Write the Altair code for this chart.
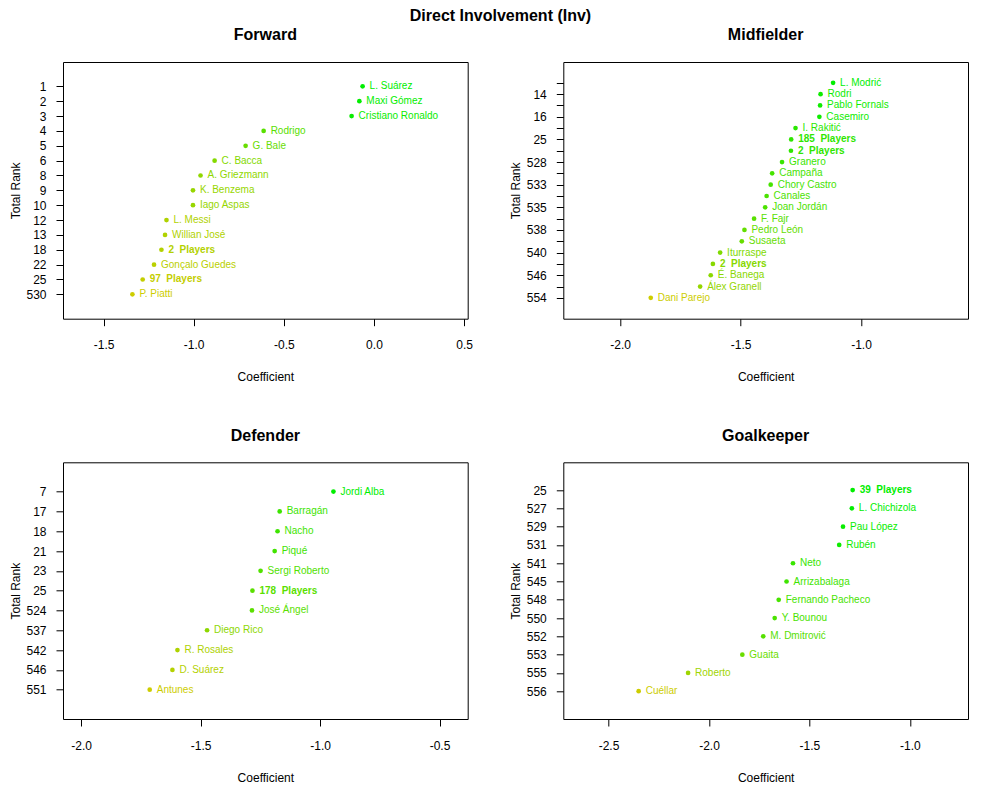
import altair as alt
import pandas as pd

FONT = "Liberation Sans"

# ---------------- data ----------------
fw_names = ["L. Suárez", "Maxi Gómez", "Cristiano Ronaldo", "Rodrigo", "G. Bale", "C. Bacca",
            "A. Griezmann", "K. Benzema", "Iago Aspas", "L. Messi", "Willian José", "2  Players",
            "Gonçalo Guedes", "97  Players", "P. Piatti"]
fw_ranks = ["1", "2", "3", "4", "5", "6", "8", "9", "10", "12", "13", "18", "22", "25", "530"]
fw_coef = [-0.063, -0.081, -0.124, -0.612, -0.712, -0.884, -0.962, -1.004, -1.004, -1.151,
           -1.159, -1.179, -1.220, -1.283, -1.340]
fw_xticks = [-1.5, -1.0, -0.5, 0.0, 0.5]
fw_xdomain = [-1.725, 0.52]

mf_names = ["L. Modrić", "Rodri", "Pablo Fornals", "Casemiro", "I. Rakitić", "185  Players",
            "2  Players", "Granero", "Campaña", "Chory Castro", "Canales", "Joan Jordán", "F. Fajr",
            "Pedro León", "Susaeta", "Iturraspe", "2  Players", "É. Banega", "Álex Granell",
            "Dani Parejo"]
mf_ranks = ["11", "14", "15", "16", "20", "25", "26", "528", "532", "533", "534", "535", "536",
            "538", "539", "540", "543", "546", "549", "554"]
mf_coef = [-1.116, -1.168, -1.170, -1.173, -1.272, -1.290, -1.291, -1.328, -1.369, -1.375,
           -1.392, -1.398, -1.444, -1.484, -1.495, -1.585, -1.615, -1.624, -1.668, -1.873]
mf_xticks = [-2.0, -1.5, -1.0]
mf_xdomain = [-2.236, -0.556]

df_names = ["Jordi Alba", "Barragán", "Nacho", "Piqué", "Sergi Roberto", "178  Players",
            "José Ángel", "Diego Rico", "R. Rosales", "D. Suárez", "Antunes"]
df_ranks = ["7", "17", "18", "21", "23", "25", "524", "537", "542", "546", "551"]
df_coef = [-0.944, -1.169, -1.178, -1.190, -1.249, -1.283, -1.285, -1.473, -1.597, -1.618, -1.713]
df_xticks = [-2.0, -1.5, -1.0, -0.5]
df_xdomain = [-2.076, -0.382]

gk_names = ["39  Players", "L. Chichizola", "Pau López", "Rubén", "Neto", "Arrizabalaga",
            "Fernando Pacheco", "Y. Bounou", "M. Dmitrović", "Guaita", "Roberto", "Cuéllar"]
gk_ranks = ["25", "527", "529", "531", "541", "545", "548", "550", "552", "553", "555", "556"]
gk_coef = [-1.285, -1.289, -1.333, -1.352, -1.582, -1.614, -1.653, -1.673, -1.730, -1.834,
           -2.104, -2.350]
gk_xticks = [-2.5, -2.0, -1.5, -1.0]
gk_xdomain = [-2.725, -0.711]

LOW_COLOR = "#CDCD00"
HIGH_COLOR = "#00EE00"

PW = 404.7
PH = 256.7


def panel(title, names, ranks, coef, xticks, xdomain, alternate=False):
    n = len(names)
    data = pd.DataFrame({
        "name": [nm.replace("  ", "\u00a0\u00a0") for nm in names],
        "row": list(range(1, n + 1)),
        "coef": coef,
        "bold": ["Players" in nm for nm in names],
    })
    shown = []
    for i, r in enumerate(ranks, start=1):
        if alternate and (n - i) % 2 == 1:
            shown.append("")
        else:
            shown.append(r)
    y_label_expr = "[" + ",".join("'%s'" % s for s in shown) + "][datum.value - 1]"
    x_label_expr = ("datum.value < 0 ? '-' + format(-datum.value, '.1f') "
                    ": format(datum.value, '.1f')")
    ext = 0.04 * (n + 1)
    base = alt.Chart(data).encode(
        x=alt.X("coef:Q",
                scale=alt.Scale(domain=xdomain, nice=False, zero=False),
                axis=alt.Axis(values=xticks, labelExpr=x_label_expr, title="Coefficient",
                              labelPadding=14, minExtent=29, maxExtent=29, titlePadding=24)),
        y=alt.Y("row:Q",
                scale=alt.Scale(domain=[-ext, n + 1 + ext], nice=False, zero=False, reverse=True),
                axis=alt.Axis(values=list(range(1, n + 1)), labelExpr=y_label_expr,
                              title="Total Rank", labelPadding=10, minExtent=38, maxExtent=38,
                              titlePadding=3, labelOverlap=False)),
        color=alt.Color("coef:Q",
                        scale=alt.Scale(domain=[min(coef), max(coef)],
                                        range=[LOW_COLOR, HIGH_COLOR], interpolate="rgb"),
                        legend=None),
    )
    pts = base.mark_circle(size=22, opacity=1)
    txt = base.mark_text(align="left", baseline="middle", dx=7, fontSize=10, font=FONT).encode(
        text="name:N").transform_filter("!datum.bold")
    txtb = base.mark_text(align="left", baseline="middle", dx=7, fontSize=10, font=FONT,
                          fontWeight="bold").encode(text="name:N").transform_filter("datum.bold")
    return alt.layer(pts, txt, txtb).properties(
        width=PW, height=PH,
        title=alt.TitleParams(title, fontSize=16, fontWeight="bold", font=FONT, anchor="middle",
                              baseline="alphabetic", offset=5.7, color="black"),
    )


p1 = panel("Forward", fw_names, fw_ranks, fw_coef, fw_xticks, fw_xdomain)
p2 = panel("Midfielder", mf_names, mf_ranks, mf_coef, mf_xticks, mf_xdomain, alternate=True)
p3 = panel("Defender", df_names, df_ranks, df_coef, df_xticks, df_xdomain)
p4 = panel("Goalkeeper", gk_names, gk_ranks, gk_coef, gk_xticks, gk_xdomain)

chart = alt.concat(
    p1, p2, p3, p4, columns=2,
    spacing={"row": 143.3, "column": 95.3},
    bounds="flush",
    title=alt.TitleParams("Direct Involvement (Inv)", fontSize=16, fontWeight="bold", font=FONT,
                          anchor="middle", baseline="alphabetic", offset=-10.4, dx=12,
                          color="black"),
).resolve_scale(
    color="independent"
).properties(
    padding={"left": 0, "top": 0, "right": 5, "bottom": 5},
    background="white",
).configure_view(
    stroke="black", strokeWidth=1
).configure_axis(
    domain=False, grid=False, tickSize=7, tickColor="black", tickWidth=1,
    labelFont=FONT, labelFontSize=12, labelColor="black",
    titleFont=FONT, titleFontSize=12, titleFontWeight="normal", titleColor="black",
)

chart.save("out.html", embed_options={"renderer": "svg", "actions": False})
